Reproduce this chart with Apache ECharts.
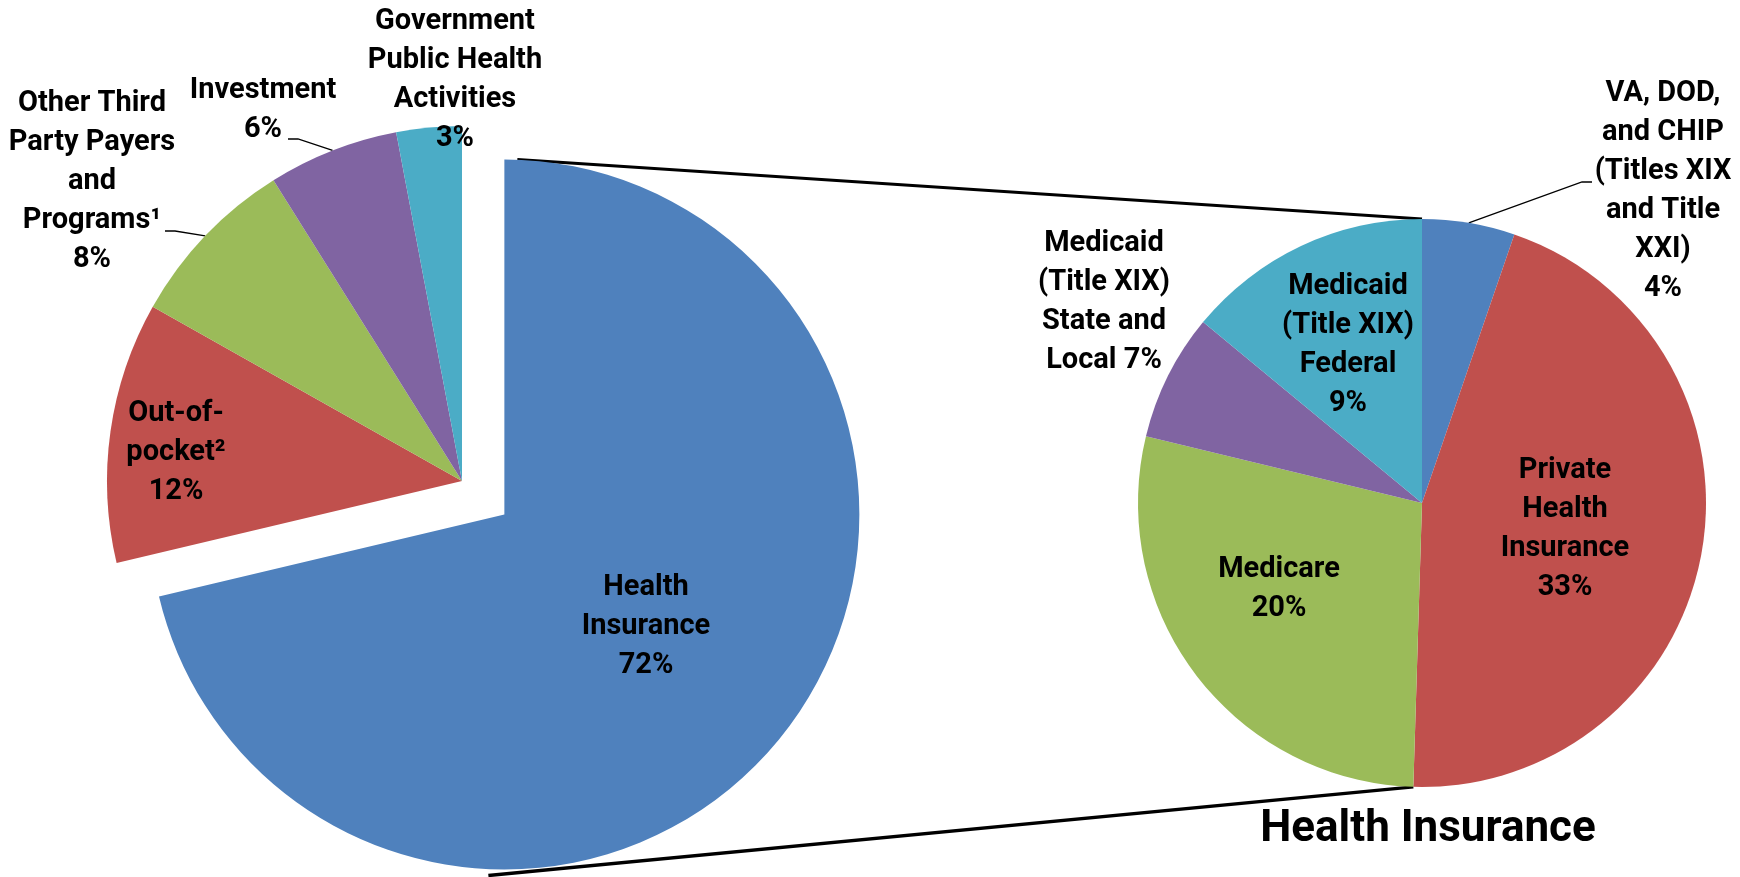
<!DOCTYPE html>
<html>
<head>
<meta charset="utf-8">
<script src="https://cdn.jsdelivr.net/npm/echarts@6/dist/echarts.min.js"></script>
<style>
  html, body { margin: 0; padding: 0; background: #fff; }
  #main { width: 1740px; height: 877px; }
</style>
</head>
<body>
<div id="main"></div>
<script>
// left pie - where the money comes from
var srcNames = ['Health\nInsurance', 'Out-of-\npocket\u00b2', 'Other Third\nParty Payers\nand\nPrograms\u00b9', 'Investment', 'Government\nPublic Health\nActivities']
var srcValues = [72, 12, 8, 6, 3]
var srcPct = ['72%', '12%', '8%', '6%', '3%']

// right pie - health insurance split
var hiNames = ['VA, DOD,\nand CHIP\n(Titles XIX\nand Title\nXXI)', 'Private\nHealth\nInsurance', 'Medicare', 'Medicaid\n(Title XIX)\nState and\nLocal', 'Medicaid\n(Title XIX)\nFederal']
var hiValues = [3.8, 32.6, 20.4, 5.2, 10.1]
var hiPct = ['4%', '33%', '20%', '7%', '9%']

var colors = ['#4F81BD', '#C0504D', '#9BBB59', '#8064A2', '#4BACC6']

// layout
var leftC = [462, 481], leftR = 355, explode = 54
var rightC = [1422, 503], rightR = 284
// first left label (exploded slice) stays at the library's inside spot
var srcLabelPos = [null, [176, 453], [92, 182], [263, 110], [455, 80]]
var srcLines = [null, null, [[175, 231], [165, 231]], [[298, 139], [288, 139]], null]
var hiLabelPos = [[1663, 191], [1565, 529], [1279, 589], [1104, 302], [1348, 345]]
var hiLines = [[[1582, 182], [1592, 182]], null, null, null, null]

var font = { fontFamily: 'Roboto', fontWeight: 'bold', fontSize: 29, lineHeight: 39, color: '#000' }

function buildData(names, values, lines, first) {
  return names.map(function (n, i) {
    var d = {
      name: n,
      value: values[i],
      itemStyle: { color: colors[i] },
      labelLine: { show: !!lines[i] }
    }
    if (first && i === 0) {
      d.selected = true
      d.label = { position: 'inside' }
    }
    return d
  })
}

function placeLabels(pos, lines) {
  return function (p) {
    var i = p.dataIndex
    if (!pos[i]) return {}
    var out = { x: pos[i][0], y: pos[i][1], align: 'center', verticalAlign: 'middle' }
    if (lines[i] && p.labelLinePoints) {
      out.labelLinePoints = [p.labelLinePoints[0], lines[i][0], lines[i][1]]
    }
    return out
  }
}

function sum(a) { return a.reduce(function (s, v) { return s + v }, 0) }

// series lines between the two pies
var mid = srcValues[0] / sum(srcValues) * Math.PI
var ex = leftC[0] + explode * Math.sin(mid), ey = leftC[1] - explode * Math.cos(mid)
var cut = (hiValues[0] + hiValues[1]) / sum(hiValues) * 2 * Math.PI
var bx = rightC[0] + rightR * Math.sin(cut), by = rightC[1] - rightR * Math.cos(cut)

var chart = echarts.init(document.getElementById('main'))
chart.setOption({
  animation: false,
  backgroundColor: '#fff',
  title: {
    text: 'Health Insurance',
    left: 1428,
    top: 808,
    padding: 0,
    textAlign: 'center',
    textStyle: { fontFamily: 'Roboto', fontWeight: 'bold', fontSize: 44, color: '#000' }
  },
  graphic: [
    { type: 'line', shape: { x1: ex + 13, y1: ey - leftR, x2: rightC[0], y2: rightC[1] - rightR }, style: { stroke: '#000', lineWidth: 3 } },
    { type: 'line', shape: { x1: ex - 16, y1: ey + leftR + 6, x2: bx, y2: by }, style: { stroke: '#000', lineWidth: 3.5 } }
  ],
  series: [{
    type: 'pie',
    center: leftC,
    radius: leftR,
    startAngle: 90,
    clockwise: true,
    selectedMode: 'single',
    selectedOffset: explode,
    avoidLabelOverlap: false,
    emphasis: { disabled: true },
    itemStyle: { borderWidth: 0 },
    label: {
      position: 'outside',
      formatter: function (p) { return p.name + '\n' + srcPct[p.dataIndex] },
      ...font
    },
    labelLine: { lineStyle: { color: '#000', width: 1.3 } },
    labelLayout: placeLabels(srcLabelPos, srcLines),
    data: buildData(srcNames, srcValues, srcLines, true)
  }, {
    type: 'pie',
    center: rightC,
    radius: rightR,
    startAngle: 90,
    clockwise: true,
    avoidLabelOverlap: false,
    emphasis: { disabled: true },
    itemStyle: { borderWidth: 0 },
    label: {
      position: 'outside',
      formatter: function (p) { return p.name + (p.dataIndex === 3 ? ' ' : '\n') + hiPct[p.dataIndex] },
      ...font
    },
    labelLine: { lineStyle: { color: '#000', width: 1.3 } },
    labelLayout: placeLabels(hiLabelPos, hiLines),
    data: buildData(hiNames, hiValues, hiLines, false)
  }]
})
</script>
</body>
</html>
